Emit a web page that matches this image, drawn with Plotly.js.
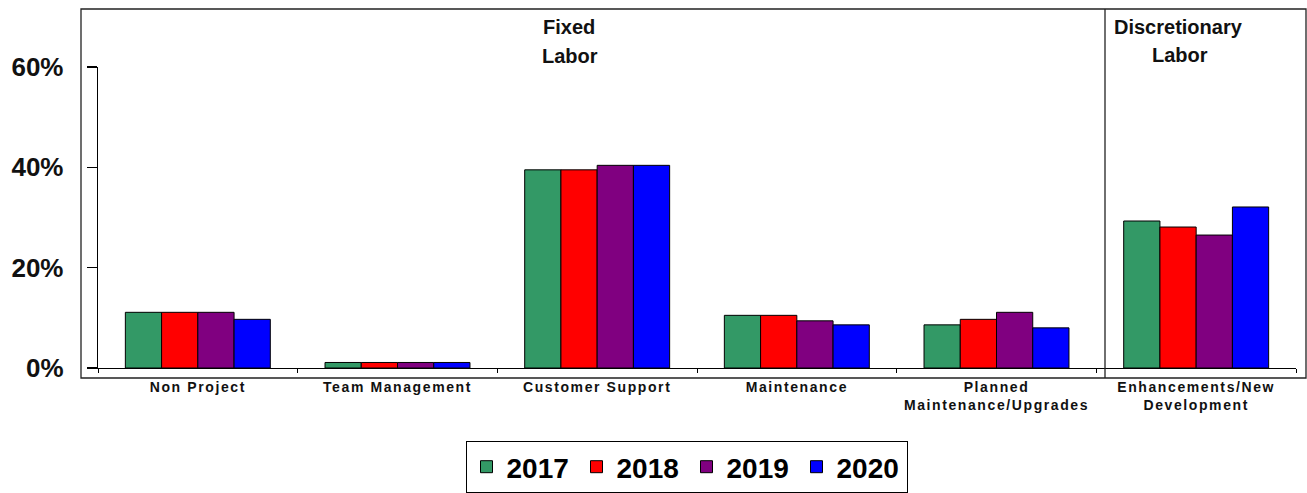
<!DOCTYPE html>
<html>
<head>
<meta charset="utf-8">
<script src="https://cdn.plot.ly/plotly-3.0.1.min.js"></script>
<style>
  html, body { margin: 0; padding: 0; background: #fff; }
  #chart { width: 1307px; height: 493px; }
  .xtick text { letter-spacing: 1.6px; }
</style>
</head>
<body>
<div id="chart"></div>
<script>
const categories = ["Non Project", "Team Management", "Customer Support", "Maintenance", "Planned<br>Maintenance/Upgrades", "Enhancements/New<br>Development"];
const years = ["2017", "2018", "2019", "2020"];
const colors = ["#339966", "#FF0000", "#800080", "#0000FF"];
const v2017 = [11.1, 1.1, 39.5, 10.5, 8.6, 29.3];
const v2018 = [11.1, 1.1, 39.5, 10.5, 9.7, 28.1];
const v2019 = [11.1, 1.1, 40.4, 9.4, 11.1, 26.5];
const v2020 = [9.7, 1.1, 40.4, 8.6, 8.0, 32.1];
const yTicks = [0, 20, 40, 60];
const yTickText = ["0%", "20%", "40%", "60%"];
const series = [v2017, v2018, v2019, v2020];

const traces = series.map((vals, i) => ({
  type: "bar",
  name: years[i],
  x: categories,
  y: vals,
  marker: { color: colors[i], line: { color: "#000", width: 1 } },
  hoverinfo: "none"
}));

const W = 1307, H = 493;
const plotLeft = 98, plotRight = 1296, plotTop = 67, plotBottom = 368;
const pw = plotRight - plotLeft, ph = plotBottom - plotTop;
const px = x => (x - plotLeft) / pw;
const py = y => (plotBottom - y) / ph;
const FONT = "Arial, 'Liberation Sans', sans-serif";
const annFont = { size: 20, family: FONT, color: "#111", weight: "bold" };

const layout = {
  width: W, height: H,
  margin: { l: plotLeft, r: W - plotRight, t: plotTop, b: H - plotBottom, pad: 0 },
  paper_bgcolor: "#fff", plot_bgcolor: "#fff",
  barmode: "group", bargap: 0.274, bargroupgap: 0,
  showlegend: true,
  font: { family: FONT, color: "#000" },
  xaxis: {
    type: "category",
    range: [-0.5, 5.5],
    showline: true, linecolor: "#000", linewidth: 1.3,
    ticks: "outside", tickson: "boundaries", ticklen: 4, tickcolor: "#000", tickwidth: 1,
    showgrid: false, zeroline: false,
    tickfont: { size: 14, family: FONT, color: "#111", weight: "bold" },
    ticklabelstandoff: 6,
    tickangle: 0, automargin: false
  },
  yaxis: {
    range: [0, 60],
    tickvals: yTicks, ticktext: yTickText,
    showline: true, linecolor: "#000", linewidth: 1.3,
    ticks: "outside", ticklen: 10, tickcolor: "#000", tickwidth: 1.3,
    showgrid: false, zeroline: false,
    tickfont: { size: 26, family: FONT, color: "#111", weight: "bold" },
    ticklabelstandoff: 18, automargin: false
  },
  legend: {
    orientation: "h",
    xref: "container", yref: "container",
    x: 686.5 / W, xanchor: "center",
    y: 1 - 441 / H, yanchor: "top",
    bordercolor: "#000", borderwidth: 1,
    entrywidth: 65,
    font: { size: 28, family: FONT, color: "#000", weight: "bold" },
    itemclick: false, itemdoubleclick: false,
    traceorder: "normal"
  },
  shapes: [
    { type: "rect", xref: "paper", yref: "paper", x0: px(81), x1: px(1306), y0: py(378), y1: py(9),
      line: { color: "#222", width: 1.3 }, fillcolor: "rgba(0,0,0,0)", layer: "below" },
    { type: "line", xref: "paper", yref: "paper", x0: px(1105), x1: px(1105), y0: py(378), y1: py(9),
      line: { color: "#222", width: 1.3 } }
  ],
  annotations: [
    { text: "Fixed", xref: "paper", yref: "paper", x: px(569), y: py(27), xanchor: "center", yanchor: "middle", showarrow: false, font: annFont },
    { text: "Labor", xref: "paper", yref: "paper", x: px(570), y: py(56), xanchor: "center", yanchor: "middle", showarrow: false, font: annFont },
    { text: "Discretionary", xref: "paper", yref: "paper", x: px(1178), y: py(27), xanchor: "center", yanchor: "middle", showarrow: false, font: annFont },
    { text: "Labor", xref: "paper", yref: "paper", x: px(1180), y: py(55), xanchor: "center", yanchor: "middle", showarrow: false, font: annFont }
  ]
};

Plotly.newPlot("chart", traces, layout, { staticPlot: true, displayModeBar: false });
</script>
</body>
</html>
